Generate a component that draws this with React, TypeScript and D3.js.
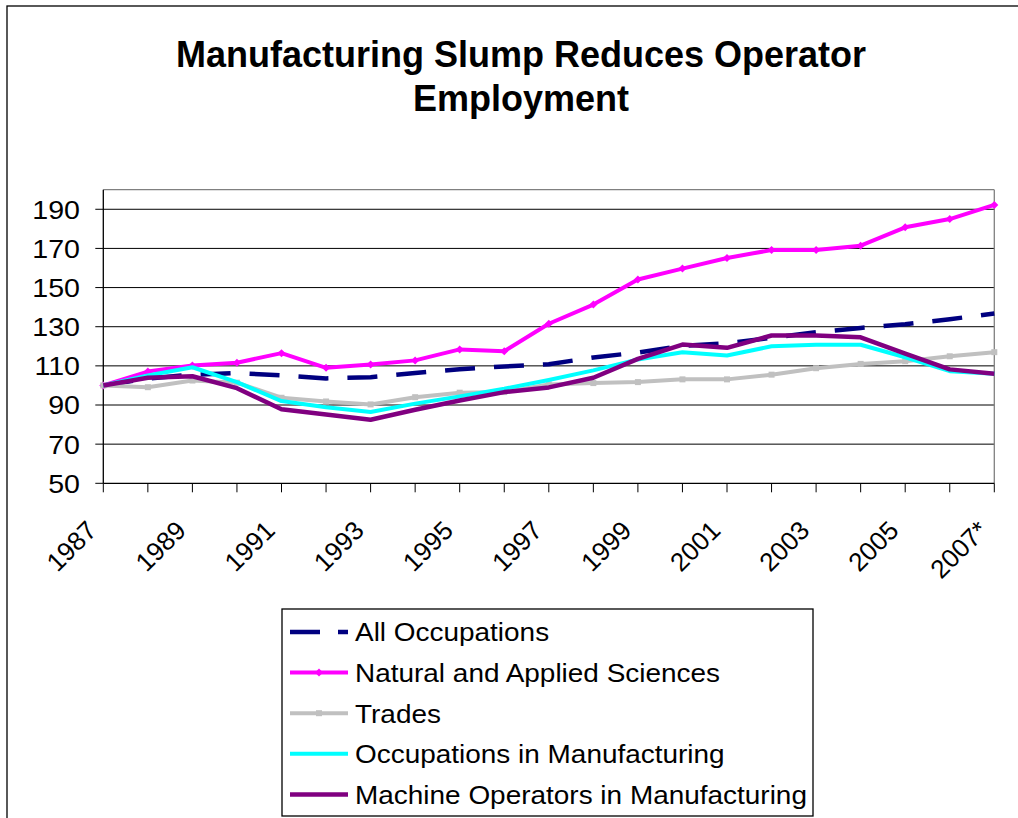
import React from "react";
import * as d3 from "d3";

const years: string[] = [
  "1987", "1988", "1989", "1990", "1991", "1992", "1993", "1994", "1995", "1996",
  "1997", "1998", "1999", "2000", "2001", "2002", "2003", "2004", "2005", "2006", "2007*",
];
const tickLabels: string[] = ["1987", "1989", "1991", "1993", "1995", "1997", "1999", "2001", "2003", "2005", "2007*"];
const yTicks: number[] = [50, 70, 90, 110, 130, 150, 170, 190];

const allOccupations: number[] = [
  100, 103.5, 105.5, 106.3, 105.1, 103.6, 104.2, 106.4, 108.3, 109.7,
  110.8, 114.3, 116.8, 120.2, 121.6, 124.3, 127.2, 129.4, 131.3, 133.8, 136.8,
];
const naturalSciences: number[] = [
  100, 107.1, 110.2, 111.6, 116.5, 109, 110.7, 112.8, 118.4, 117.5,
  131.5, 141.3, 154.1, 159.7, 165.1, 169.2, 169.2, 171.4, 180.8, 185, 192.2,
];
const trades: number[] = [
  100, 99.1, 102.5, 101.4, 93.7, 91.8, 90.3, 94, 96.3, 96.6,
  100.5, 101.2, 101.7, 103.1, 103.1, 105.5, 108.8, 111, 112.4, 114.9, 117,
];
const occManufacturing: number[] = [
  100, 105.1, 109.3, 101.7, 92, 88.9, 86.4, 90.7, 94.4, 98.3,
  102.8, 107.7, 113.3, 117, 115.3, 120, 120.8, 120.8, 114.4, 107.3, 106,
];
const machineOperators: number[] = [
  100, 103.9, 104.7, 98.6, 87.8, 85.2, 82.5, 87.6, 92.3, 96.6,
  99, 103.9, 113.6, 120.9, 119.2, 125.5, 125.5, 124.6, 116.2, 108.2, 106,
];

const seriesNames: string[] = [
  "All Occupations",
  "Natural and Applied Sciences",
  "Trades",
  "Occupations in Manufacturing",
  "Machine Operators in Manufacturing",
];

type Series = {
  name: string;
  values: number[];
  color: string;
  width: number;
  dash?: string;
  marker?: "diamond" | "square";
};

const series: Series[] = [
  { name: seriesNames[0], values: allOccupations, color: "#000080", width: 4.5, dash: "30 19" },
  { name: seriesNames[1], values: naturalSciences, color: "#FF00FF", width: 4, marker: "diamond" },
  { name: seriesNames[2], values: trades, color: "#C0C0C0", width: 4, marker: "square" },
  { name: seriesNames[3], values: occManufacturing, color: "#00FFFF", width: 4 },
  { name: seriesNames[4], values: machineOperators, color: "#800080", width: 4.5 },
];

const FONT = "Arial, 'Liberation Sans', sans-serif";

export default function App() {
  const W = 1018;
  const H = 818;
  const left = 103.3;
  const right = 994.3;
  const top = 189.7;
  const bottom = 483.3;

  const x = d3.scalePoint<string>().domain(years).range([left, right]);
  const y = d3.scaleLinear().domain([50, 200]).range([bottom, top]);

  const line = d3
    .line<number>()
    .x((_, i) => x(years[i]) as number)
    .y((d) => y(d));

  const legendX = 282;
  const legendY = 609;
  const legendW = 531;
  const legendH = 207;
  const rowY = (i: number) => 632 + i * 40.6;

  return (
    <svg
      width={W}
      height={H}
      style={{ position: "absolute", left: 0, top: 0, background: "#fff" }}
      fontFamily={FONT}
    >
      <rect x={0} y={0} width={W} height={H} fill="#fff" />
      {/* outer chart border */}
      <rect x={7} y={6} width={W + 20} height={H + 20} fill="none" stroke="#000" strokeWidth={1.3} />

      {/* title */}
      <text x={521} y={67} textAnchor="middle" fontSize={36} fontWeight="bold" fill="#000">
        Manufacturing Slump Reduces Operator
      </text>
      <text x={521} y={111} textAnchor="middle" fontSize={36} fontWeight="bold" fill="#000">
        Employment
      </text>

      {/* gridlines */}
      {yTicks.slice(1).map((t) => (
        <line key={"g" + t} x1={left} x2={right} y1={y(t)} y2={y(t)} stroke="#000" strokeWidth={1} />
      ))}
      {/* plot area frame top/right */}
      <line x1={left} x2={right} y1={top} y2={top} stroke="#808080" strokeWidth={1.3} />
      <line x1={right} x2={right} y1={top} y2={bottom} stroke="#808080" strokeWidth={1.3} />

      {/* y axis */}
      <line x1={left} x2={left} y1={top} y2={bottom} stroke="#000" strokeWidth={1.3} />
      {yTicks.map((t) => (
        <g key={"y" + t}>
          <line x1={left - 8} x2={left} y1={y(t)} y2={y(t)} stroke="#000" strokeWidth={1} />
          <g transform={`translate(80,${y(t)}) scale(1.1,1)`}>
            <text textAnchor="end" dy="0.36em" fontSize={26} fill="#000">
              {t}
            </text>
          </g>
        </g>
      ))}

      {/* x axis */}
      <line x1={left} x2={right} y1={bottom} y2={bottom} stroke="#000" strokeWidth={1.3} />
      {years.map((yr) => (
        <line
          key={"xt" + yr}
          x1={x(yr) as number}
          x2={x(yr) as number}
          y1={bottom}
          y2={bottom + 9}
          stroke="#000"
          strokeWidth={1}
        />
      ))}
      {tickLabels.map((yr) => (
        <text
          key={"xl" + yr}
          transform={`translate(${(x(yr) as number) - 5},532) rotate(-45)`}
          textAnchor="end"
          fontSize={26}
          fill="#000"
        >
          {yr}
        </text>
      ))}

      {/* series */}
      {series.map((s) => (
        <g key={s.name}>
          <path
            d={line(s.values) || ""}
            fill="none"
            stroke={s.color}
            strokeWidth={s.width}
            strokeDasharray={s.dash}
            strokeLinejoin="round"
          />
          {s.marker === "diamond" &&
            s.values.map((v, i) => {
              const cx = x(years[i]) as number;
              const cy = y(v);
              return (
                <path
                  key={i}
                  d={`M${cx},${cy - 4}L${cx + 4},${cy}L${cx},${cy + 4}L${cx - 4},${cy}Z`}
                  fill={s.color}
                />
              );
            })}
          {s.marker === "square" &&
            s.values.map((v, i) => {
              const cx = x(years[i]) as number;
              const cy = y(v);
              return <rect key={i} x={cx - 3} y={cy - 3} width={6} height={6} fill={s.color} />;
            })}
        </g>
      ))}

      {/* legend */}
      <rect x={legendX} y={legendY} width={legendW} height={legendH} fill="#fff" stroke="#000" strokeWidth={1.3} />
      {series.map((s, i) => {
        const ly = rowY(i);
        return (
          <g key={"lg" + s.name}>
            <line
              x1={290}
              x2={348}
              y1={ly}
              y2={ly}
              stroke={s.color}
              strokeWidth={s.width}
              strokeDasharray={s.dash ? "30 18" : undefined}
            />
            {s.marker === "diamond" && (
              <path d={`M319,${ly - 4}L323,${ly}L319,${ly + 4}L315,${ly}Z`} fill={s.color} />
            )}
            {s.marker === "square" && <rect x={316} y={ly - 3} width={6} height={6} fill={s.color} />}
            <g transform={`translate(355,${ly}) scale(1.075,1)`}>
              <text dy="0.36em" fontSize={26} fill="#000">
                {s.name}
              </text>
            </g>
          </g>
        );
      })}
    </svg>
  );
}
